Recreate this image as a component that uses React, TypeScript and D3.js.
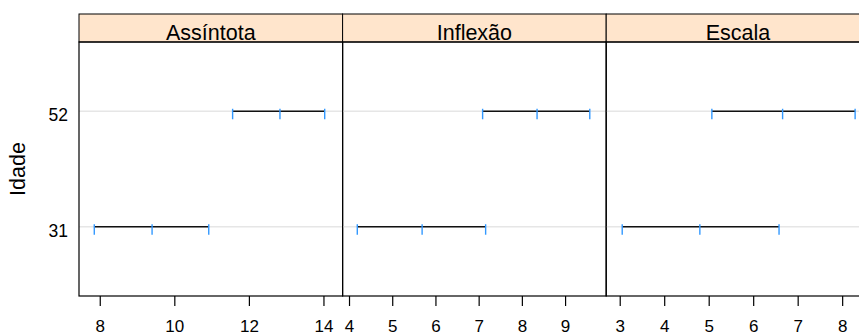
import React, { useRef, useEffect } from "react";
import * as d3 from "d3";

// data
const groups = ["31", "52"];
const panels = ["Assíntota", "Inflexão", "Escala"];
const lowerAss = [7.84, 11.55];
const estAss = [9.39, 12.82];
const upperAss = [10.91, 14.02];
const lowerInf = [4.18, 7.08];
const estInf = [5.68, 8.34];
const upperInf = [7.15, 9.56];
const lowerEsc = [3.045, 5.06];
const estEsc = [4.79, 6.65];
const upperEsc = [6.57, 8.28];
const ticksAss = [8, 10, 12, 14];
const ticksInf = [4, 5, 6, 7, 8, 9];
const ticksEsc = [3, 4, 5, 6, 7, 8];
const domainAss = [7.43, 14.5];
const domainInf = [3.84, 9.94];
const domainEsc = [2.685, 8.61];

const App = () => {
	const svgRef = useRef(null);
	const width = 859;
	const height = 336;

	useEffect(() => {
		const svg = d3.select(svgRef.current);
		svg.selectAll("*").remove();

		const left = 79;
		const panelW = 263.6;
		const stripTop = 14;
		const top = 42;
		const bottom = 296;
		const font = "'Liberation Sans', Arial, sans-serif";

		const info = [
			{ lo: lowerAss, est: estAss, up: upperAss, ticks: ticksAss, dom: domainAss },
			{ lo: lowerInf, est: estInf, up: upperInf, ticks: ticksInf, dom: domainInf },
			{ lo: lowerEsc, est: estEsc, up: upperEsc, ticks: ticksEsc, dom: domainEsc },
		];

		const y = d3.scalePoint()
			.domain(groups.slice().reverse())
			.range([top, bottom])
			.padding(0.6);

		// y label
		svg.append("text")
			.attr("transform", `translate(25, ${(top + bottom) / 2}) rotate(-90)`)
			.attr("text-anchor", "middle")
			.attr("font-family", font)
			.attr("font-size", 21.5)
			.text("Idade");

		// y tick labels
		svg.append("g")
			.selectAll("text")
			.data(groups)
			.join("text")
			.attr("x", 68)
			.attr("y", d => y(d) + 10)
			.attr("text-anchor", "end")
			.attr("font-family", font)
			.attr("font-size", 17.5)
			.text(d => d);

		panels.forEach((name, p) => {
			const x0 = left + p * panelW;
			const d = info[p];
			const x = d3.scaleLinear().domain(d.dom).range([x0, x0 + panelW]);
			const g = svg.append("g");

			// strip
			g.append("rect")
				.attr("x", x0).attr("y", stripTop)
				.attr("width", panelW).attr("height", top - stripTop)
				.attr("fill", "#ffe5cc")
				.attr("stroke", "#000").attr("stroke-width", 1);
			g.append("text")
				.attr("x", x0 + panelW / 2).attr("y", top - 2)
				.attr("text-anchor", "middle")
				.attr("font-family", font)
				.attr("font-size", 21.5)
				.text(name);

			// reference lines
			g.append("g")
				.selectAll("line")
				.data(groups)
				.join("line")
				.attr("x1", x0).attr("x2", x0 + panelW)
				.attr("y1", k => y(k)).attr("y2", k => y(k))
				.attr("stroke", "#e6e6e6").attr("stroke-width", 1.5);

			// intervals
			g.append("g")
				.selectAll("line")
				.data(groups)
				.join("line")
				.attr("x1", (k, i) => x(d.lo[i])).attr("x2", (k, i) => x(d.up[i]))
				.attr("y1", k => y(k)).attr("y2", k => y(k))
				.attr("stroke", "#111").attr("stroke-width", 1.3);

			// markers
			const pts = [];
			groups.forEach((k, i) => {
				pts.push([d.lo[i], k]);
				pts.push([d.est[i], k]);
				pts.push([d.up[i], k]);
			});
			g.append("g")
				.selectAll("line")
				.data(pts)
				.join("line")
				.attr("x1", m => x(m[0])).attr("x2", m => x(m[0]))
				.attr("y1", m => y(m[1]) - 2.5).attr("y2", m => y(m[1]) + 8)
				.attr("stroke", "#3399ff").attr("stroke-width", 1.4);

			// panel border
			g.append("rect")
				.attr("x", x0).attr("y", top)
				.attr("width", panelW).attr("height", bottom - top)
				.attr("fill", "none")
				.attr("stroke", "#000").attr("stroke-width", 1.2);

			// x axis
			const ax = g.append("g");
			ax.selectAll("line")
				.data(d.ticks)
				.join("line")
				.attr("x1", t => x(t)).attr("x2", t => x(t))
				.attr("y1", bottom).attr("y2", bottom + 10)
				.attr("stroke", "#000").attr("stroke-width", 1.2);
			ax.selectAll("text")
				.data(d.ticks)
				.join("text")
				.attr("x", t => x(t)).attr("y", 332)
				.attr("text-anchor", "middle")
				.attr("font-family", font)
				.attr("font-size", 17)
				.text(t => t);
		});
	});

	return (
		<svg ref={svgRef} width={width} height={height}
			style={{ position: "absolute", left: 0, top: 0, background: "#fff" }}>
		</svg>
	);
};

export default App;
